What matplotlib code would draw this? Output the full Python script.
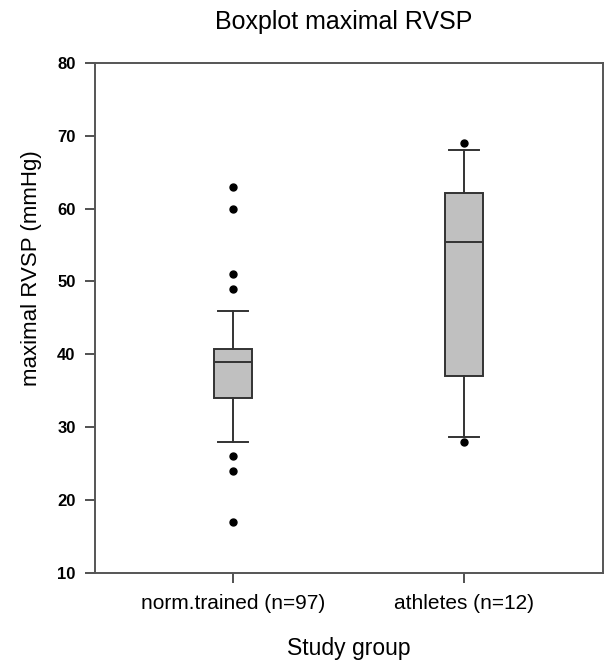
import matplotlib
matplotlib.use("Agg")
import matplotlib.pyplot as plt

plt.rcParams["font.family"] = ["Liberation Sans", "DejaVu Sans"]

# Data (box stats)
groups = ["norm.trained (n=97)", "athletes (n=12)"]
whislo = [28, 28.6]
q1 = [34, 37.1]
med = [39, 55.4]
q3 = [40.8, 62.1]
whishi = [46, 68]
fliers = [[63, 60, 51, 49, 26, 24, 17], [69, 28]]

stats = []
for i, g in enumerate(groups):
    stats.append(dict(label=g, whislo=whislo[i], q1=q1[i], med=med[i],
                      q3=q3[i], whishi=whishi[i], fliers=fliers[i]))

fig = plt.figure(figsize=(6.05, 6.61), dpi=100)
ax = fig.add_axes([0.157, 0.133, 0.84, 0.772])

line_c = "#333333"
ax.bxp(stats, positions=[1, 2], widths=0.164, patch_artist=True,
       boxprops=dict(facecolor="#c0c0c0", edgecolor=line_c, linewidth=1.4),
       medianprops=dict(color=line_c, linewidth=1.4),
       whiskerprops=dict(color=line_c, linewidth=1.4),
       capprops=dict(color=line_c, linewidth=1.4),
       capwidths=0.13,
       flierprops=dict(marker="o", markerfacecolor="black", markeredgecolor="black",
                       markersize=5))

ax.set_xlim(0.403, 2.60)
ax.set_ylim(10, 80)
ax.set_yticks(range(10, 81, 10))
for lab in ax.get_yticklabels():
    lab.set_fontweight("bold")
ax.tick_params(axis="y", labelsize=12, length=7, width=1.2, color=line_c, pad=7)
ax.tick_params(axis="x", labelsize=15, length=7, width=1.2, color=line_c, pad=8)
for s in ax.spines.values():
    s.set_color("#555555")
    s.set_linewidth(1.4)

ax.set_ylabel("maximal RVSP (mmHg)", fontsize=16)
ax.yaxis.set_label_coords(-0.104, 0.598)
ax.set_xlabel("Study group", fontsize=16.5)
ax.xaxis.set_label_coords(0.5, -0.1606)
ax.xaxis.label.set_va("baseline")
ax.set_title("Boxplot maximal RVSP", fontsize=18, pad=24, x=0.489)

fig.savefig("out.png", dpi=100)
